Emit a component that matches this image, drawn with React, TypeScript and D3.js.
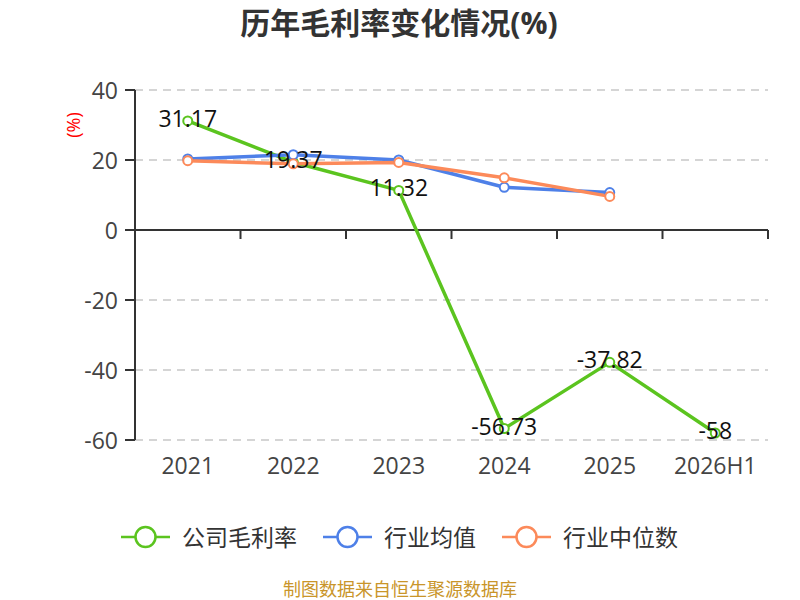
import React from 'react';
import * as d3 from 'd3';

// 数据
const years = ['2021', '2022', '2023', '2024', '2025', '2026H1'];
const companyMargin = [31.17, 19.37, 11.32, -56.73, -37.82, -58];
const industryAvg = [20.3, 21.5, 20.0, 12.2, 10.7];
const industryMedian = [19.8, 18.9, 19.3, 14.9, 9.6];
const yTicks = [40, 20, 0, -20, -40, -60];
const seriesNames = ['公司毛利率', '行业均值', '行业中位数'];
const seriesColors = ['#5bc41f', '#4e80e8', '#fc8a5a'];

const W = 800;
const H = 600;
const FONT = '"Open Sans", "Noto Sans CJK SC", sans-serif';

const App: React.FC = () => {
  const x = d3.scaleBand<string>().domain(years).range([135, 768]).paddingInner(0).paddingOuter(0);
  const y = d3.scaleLinear().domain([-60, 40]).range([440, 90]);
  const cx = (d: string) => (x(d) as number) + x.bandwidth() / 2;

  const line = d3
    .line<number>()
    .x((_, i) => cx(years[i]))
    .y(d => y(d));

  const series = [companyMargin, industryAvg, industryMedian];
  const legendX = [121, 323, 502]; // 图例起点

  // 刻度位置（类目边界）
  const boundaries = years.map(d => x(d) as number).concat([x.range()[1]]);

  return (
    <div style={{ position: 'fixed', left: 0, top: 0 }}>
      <svg width={W} height={H} style={{ display: 'block', background: '#fff' }} fontFamily={FONT}>
        <text x={399} y={34} textAnchor="middle" fontSize={30} fontWeight="bold" fill="#333">
          历年毛利率变化情况(%)
        </text>

        <text
          transform={`translate(73,125) rotate(-90)`}
          textAnchor="middle"
          dominantBaseline="central"
          fontSize={18}
          fill="#ff0000"
        >
          (%)
        </text>

        {/* 网格线 */}
        {yTicks.filter(t => t !== 0).map(t => (
          <line key={t} x1={135} x2={768} y1={y(t)} y2={y(t)} stroke="#c8c8c8" strokeWidth={1.5} strokeDasharray="8,6" />
        ))}

        {/* y 轴 */}
        <line x1={135} x2={135} y1={y(40)} y2={y(-60)} stroke="#333" strokeWidth={2} />
        {yTicks.map(t => (
          <g key={t}>
            <line x1={125} x2={135} y1={y(t)} y2={y(t)} stroke="#333" strokeWidth={2} />
            <text x={118} y={y(t)} textAnchor="end" dominantBaseline="central" fontSize={23} fill="#444">
              {t}
            </text>
          </g>
        ))}

        {/* x 轴 */}
        <line x1={135} x2={768} y1={y(0)} y2={y(0)} stroke="#333" strokeWidth={2} />
        {boundaries.map((b, i) => (
          <line key={i} x1={b} x2={b} y1={y(0)} y2={y(0) + 9} stroke="#333" strokeWidth={2} />
        ))}
        {years.map(d => (
          <text key={d} x={cx(d)} y={465} textAnchor="middle" dominantBaseline="central" fontSize={23} fill="#444">
            {d}
          </text>
        ))}

        {/* 折线 */}
        {series.map((s, si) => (
          <path key={si} d={line(s) || ''} fill="none" stroke={seriesColors[si]} strokeWidth={3.5} strokeLinejoin="round" />
        ))}
        {series.map((s, si) =>
          s.map((v, i) => (
            <circle key={`${si}-${i}`} cx={cx(years[i])} cy={y(v)} r={4.5} fill="#fff" stroke={seriesColors[si]} strokeWidth={2} />
          ))
        )}

        {/* 数据标签 */}
        {companyMargin.map((v, i) => (
          <text
            key={i}
            x={cx(years[i])}
            y={y(v) - 3}
            textAnchor="middle"
            dominantBaseline="central"
            fontSize={23}
            fill="#111"
          >
            {v}
          </text>
        ))}

        {/* 图例 */}
        {seriesNames.map((name, i) => (
          <g key={name} transform={`translate(${legendX[i]},537)`}>
            <line x1={0} x2={49} y1={0} y2={0} stroke={seriesColors[i]} strokeWidth={2.5} />
            <circle cx={24.5} cy={0} r={10} fill="#fff" stroke={seriesColors[i]} strokeWidth={2.5} />
            <text x={61} y={0} dominantBaseline="central" fontSize={23} fill="#333">
              {name}
            </text>
          </g>
        ))}

        <text x={400} y={589} textAnchor="middle" dominantBaseline="central" fontSize={18} fill="#c9952a">
          制图数据来自恒生聚源数据库
        </text>
      </svg>
    </div>
  );
};

export default App;
